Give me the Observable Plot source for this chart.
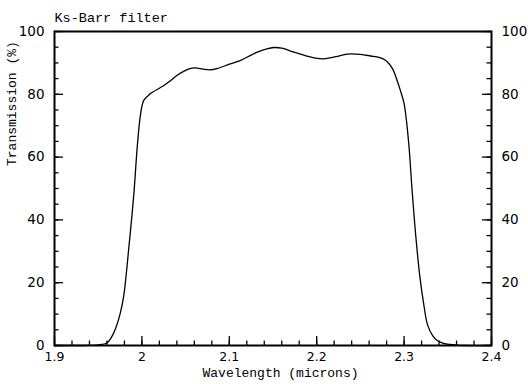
<!DOCTYPE html>
<html>
<head>
<meta charset="utf-8">
<script src="https://cdn.jsdelivr.net/npm/d3@7"></script>
<script src="https://cdn.jsdelivr.net/npm/@observablehq/plot@0.6"></script>
<style>
  html, body { margin: 0; padding: 0; background: #fff; }
</style>
</head>
<body>
<div id="chart"></div>
<script>
const title = "Ks-Barr filter";
const xLabel = "Wavelength (microns)";
const yLabel = "Transmission (%)";

const wavelength = [
  1.90, 1.93, 1.94, 1.950, 1.960, 1.965, 1.970, 1.975, 1.979, 1.985, 1.991, 1.9946, 1.9984,
  2.002, 2.008, 2.010, 2.025, 2.033, 2.040, 2.054, 2.061, 2.070, 2.078, 2.086, 2.101,
  2.113, 2.125, 2.132, 2.143, 2.151, 2.160, 2.174, 2.187, 2.197, 2.208, 2.222, 2.235,
  2.250, 2.262, 2.269, 2.276, 2.281, 2.287, 2.292, 2.296, 2.300, 2.305, 2.309, 2.313,
  2.318, 2.322, 2.327, 2.333, 2.338, 2.345, 2.358, 2.370, 2.40
];
const transmission = [
  0, 0, 0.05, 0.2, 0.8, 2.5, 5.5, 10, 15.4, 31, 49, 63, 73.5,
  78, 79.8, 80.3, 82.8, 84.4, 86, 88.1, 88.4, 88, 87.8, 88.2, 89.7,
  90.8, 92.5, 93.4, 94.5, 94.9, 94.7, 93.4, 92.3, 91.6, 91.3, 92.0, 92.8,
  92.7, 92.2, 91.9, 91.3, 90.3, 88, 84.4, 81, 77, 65.3, 50, 36,
  22, 14, 6.4, 3, 1.6, 0.7, 0.2, 0, 0
];

const xTickLabels = [1.9, 2, 2.1, 2.2, 2.3, 2.4];
const xMinorTicks = d3.range(0, 26).map(i => +(1.9 + i * 0.02).toFixed(2));
const yTickLabels = [0, 20, 40, 60, 80, 100];
const yMinorTicks = d3.range(0, 21).map(i => i * 5);

const data = wavelength.map((w, i) => ({w, t: transmission[i]}));

const W = 528, H = 384;
const mL = 54, mR = 37, mT = 31, mB = 39;
const innerW = W - mL - mR, innerH = H - mT - mB;
const majorLen = 9, minorLen = 4.5;
const mono = "Liberation Mono, Cousine, monospace";
const sans = "DejaVu Sans, sans-serif";

const chart = Plot.plot({
  width: W,
  height: H,
  marginLeft: mL,
  marginRight: mR,
  marginTop: mT,
  marginBottom: mB,
  style: {fontFamily: sans, background: "#fff", color: "#000"},
  x: {domain: [1.9, 2.4]},
  y: {domain: [0, 100]},
  marks: [
    // bottom ticks (inward)
    Plot.tickX(xMinorTicks, {x: d => d, insetTop: innerH - minorLen, stroke: "#000", strokeWidth: 1.3}),
    Plot.tickX(xTickLabels, {x: d => d, insetTop: innerH - majorLen, stroke: "#000", strokeWidth: 1.3}),
    // left ticks
    Plot.tickY(yMinorTicks, {y: d => d, insetRight: innerW - minorLen, stroke: "#000", strokeWidth: 1.3}),
    Plot.tickY(yTickLabels, {y: d => d, insetRight: innerW - majorLen, stroke: "#000", strokeWidth: 1.3}),
    // right ticks
    Plot.tickY(yMinorTicks, {y: d => d, insetLeft: innerW - minorLen, stroke: "#000", strokeWidth: 1.3}),
    Plot.tickY(yTickLabels, {y: d => d, insetLeft: innerW - majorLen, stroke: "#000", strokeWidth: 1.3}),
    // tick labels
    Plot.axisX({anchor: "bottom", ticks: xTickLabels, tickSize: 0, tickPadding: 7, tickFormat: d => String(d), fontSize: 12.5, label: null}),
    Plot.axisY({anchor: "left", ticks: yTickLabels, tickSize: 0, tickPadding: 10, tickFormat: d => String(d), fontSize: 13.5, label: null}),
    Plot.axisY({anchor: "right", ticks: yTickLabels, tickSize: 0, tickPadding: 10, tickFormat: d => String(d), fontSize: 13.5, label: null}),
    // curve
    Plot.line(data, {x: "w", y: "t", stroke: "#000", strokeWidth: 1.3, curve: "catmull-rom"}),
    // frame
    Plot.frame({stroke: "#000", strokeWidth: 2}),
    // title and axis labels
    Plot.text([title], {frameAnchor: "top-left", textAnchor: "start", dx: 0, dy: -19.5, fontFamily: mono, fontSize: 13.5, fill: "#000"}),
    Plot.text([xLabel], {frameAnchor: "bottom", dx: 7.5, dy: 31, fontFamily: mono, fontSize: 13, fill: "#000"}),
    Plot.text([yLabel], {frameAnchor: "left", rotate: -90, dx: -43, dy: -22.5, fontFamily: mono, fontSize: 13, fill: "#000"})
  ]
});

document.getElementById("chart").appendChild(chart);
</script>
</body>
</html>
